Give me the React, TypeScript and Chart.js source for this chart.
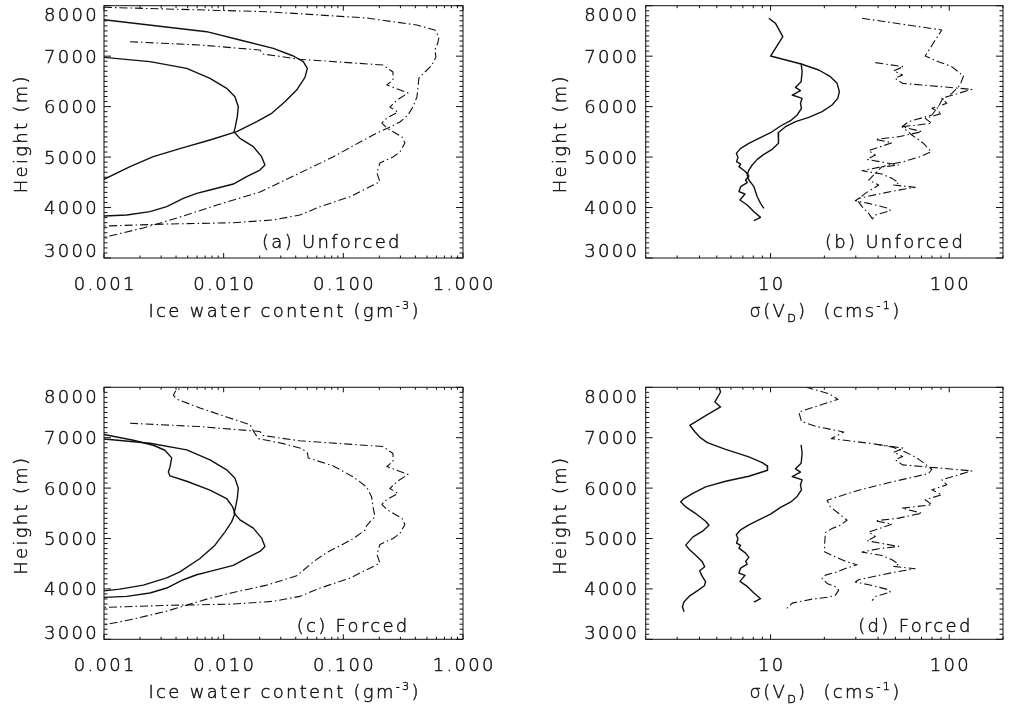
import React, { useEffect, useRef } from 'react';
import { Chart, registerables } from 'chart.js';

Chart.register(...registerables);

// Each profile point is [abscissa value, height in m]
type Pt = [number, number];

// ---- Axes ----
const heightRange = [3000, 8000];
const heightTicks = [3000, 4000, 5000, 6000, 7000, 8000];
const heightTickLabels = ['3000', '4000', '5000', '6000', '7000', '8000'];
const heightMinorStep = 100;

const iwcRange = [0.001, 1];
const iwcTicks = [0.001, 0.01, 0.1, 1];
const iwcTickLabels = ['0.001', '0.010', '0.100', '1.000'];

const sigmaRange = [2, 200];
const sigmaTicks = [10, 100];
const sigmaTickLabels = ['10', '100'];

// ---- Ice water content profiles (g m^-3) ----
const iwcObsSolid: Pt[] = [
  [0.001, 6975], [0.00242, 6891], [0.00491, 6759], [0.00769, 6560], [0.01059, 6362],
  [0.01243, 6197], [0.01325, 5999], [0.013, 5801], [0.01243, 5569], [0.01219, 5503],
  [0.01368, 5371], [0.0177, 5206], [0.02076, 5008], [0.02213, 4843], [0.0201, 4743],
  [0.01556, 4611], [0.01204, 4466], [0.00769, 4347], [0.00595, 4281], [0.0046, 4182],
  [0.00334, 4017], [0.00242, 3918], [0.00155, 3851], [0.001, 3832],
];
const iwcObsDashDot: Pt[] = [
  [0.00165, 7286], [0.00634, 7221], [0.0201, 7122], [0.0213, 7043], [0.0433, 6938],
  [0.214, 6825], [0.26, 6686], [0.26, 6527], [0.231, 6428], [0.347, 6270],
  [0.281, 6131], [0.245, 5992], [0.286, 5893], [0.231, 5774], [0.21, 5675],
  [0.231, 5576], [0.309, 5398], [0.327, 5279], [0.297, 5100], [0.26, 5001],
  [0.202, 4882], [0.191, 4684], [0.202, 4512], [0.157, 4381], [0.1135, 4214],
  [0.0638, 4016], [0.0434, 3852], [0.0258, 3753], [0.012, 3699], [0.00336, 3673],
  [0.001, 3634],
];
const iwcUnforcedSolid: Pt[] = [
  [0.001, 7722], [0.00721, 7485], [0.01368, 7320], [0.026, 7155], [0.0382, 7003],
  [0.0463, 6891], [0.05, 6759], [0.0478, 6580], [0.0407, 6329], [0.0325, 6098],
  [0.0252, 5867], [0.0189, 5701], [0.01284, 5503], [0.00768, 5338], [0.0046, 5186],
  [0.00258, 5008], [0.00165, 4809], [0.001, 4560],
];
const iwcUnforcedDashDot: Pt[] = [
  [0.001, 7968], [0.023, 7881], [0.157, 7756], [0.412, 7617], [0.582, 7518],
  [0.63, 7380], [0.616, 7261], [0.582, 7122], [0.594, 6983], [0.55, 6825],
  [0.481, 6686], [0.428, 6567], [0.42, 6369], [0.412, 6190], [0.381, 5992],
  [0.347, 5834], [0.297, 5695], [0.236, 5576], [0.191, 5477], [0.138, 5299],
  [0.0818, 5001], [0.0433, 4684], [0.0201, 4308], [0.00879, 4050], [0.00407, 3792],
  [0.00212, 3594], [0.001, 3410],
];
const iwcForcedSolid: Pt[] = [
  [0.001, 7065], [0.00176, 6949], [0.00258, 6850], [0.00323, 6751], [0.00368, 6599],
  [0.00356, 6420], [0.00345, 6321], [0.00356, 6242], [0.00491, 6136], [0.00769, 5958],
  [0.01059, 5793], [0.01189, 5627], [0.01243, 5495], [0.01165, 5330], [0.01026, 5132],
  [0.00846, 4868], [0.00634, 4603], [0.00431, 4339], [0.00334, 4220], [0.00213, 4075],
  [0.00136, 3995], [0.001, 3960],
];
const iwcForcedDashDot: Pt[] = [
  [0.00523, 8039], [0.0046, 8000], [0.004, 7946], [0.0038, 7841], [0.0041, 7761],
  [0.00634, 7590], [0.01059, 7411], [0.01658, 7259], [0.01791, 7114], [0.01948, 6982],
  [0.0315, 6883], [0.0448, 6784], [0.05, 6704], [0.0509, 6599], [0.0824, 6440],
  [0.1211, 6222], [0.1564, 6024], [0.1722, 5826], [0.1778, 5608], [0.1837, 5429],
  [0.169, 5343], [0.1564, 5251], [0.1515, 5165], [0.1211, 5000], [0.0937, 4854],
  [0.0725, 4722], [0.0561, 4537], [0.0448, 4339], [0.0407, 4260], [0.0229, 4075],
  [0.01204, 3929], [0.00721, 3797], [0.00491, 3678], [0.00334, 3559], [0.00176, 3401],
  [0.001, 3285],
];

// ---- Doppler velocity spread profiles (cm s^-1) ----
const sigmaObsSolid: Pt[] = [
  [14.83, 6858], [15.02, 6692], [14.83, 6494], [13.79, 6382], [14.7, 6316],
  [13.21, 6230], [15.02, 6164], [14.7, 6065], [14.89, 5966], [14.09, 5834],
  [12.93, 5721], [11.37, 5616], [10.0, 5483], [8.6, 5371], [7.56, 5272],
  [6.8, 5173], [6.43, 5074], [6.57, 4994], [6.45, 4909], [6.8, 4862],
  [6.65, 4810], [7.25, 4710], [7.56, 4625], [7.25, 4545], [7.4, 4492],
  [6.8, 4413], [6.65, 4314], [7.19, 4268], [6.74, 4149], [7.4, 4050],
  [8.07, 3918], [8.79, 3805], [8.07, 3739],
];
const sigmaObsDashDot: Pt[] = [
  [38.6, 6871], [55.5, 6792], [48.9, 6712], [54.8, 6626], [49.9, 6560],
  [54.8, 6461], [133.8, 6342], [112.7, 6263], [90.9, 6164], [97.0, 6065],
  [80.0, 5966], [90.9, 5867], [73.4, 5768], [80.0, 5669], [54.4, 5602],
  [70.3, 5503], [52.1, 5404], [38.6, 5351], [47.8, 5285], [40.3, 5193],
  [35.4, 5127], [38.6, 5041], [34.7, 4955], [43.9, 4889], [52.1, 4843],
  [40.3, 4796], [32.5, 4730], [42.0, 4664], [47.8, 4578], [52.1, 4492],
  [48.9, 4446], [64.5, 4400], [49.9, 4334], [40.3, 4268], [31.1, 4182],
  [29.8, 4136], [35.4, 4083], [45.8, 3984], [46.8, 3937], [38.6, 3851],
  [37.0, 3766],
];
const sigmaUnforcedSolid: Pt[] = [
  [9.78, 7750], [10.66, 7650], [11.71, 7386], [10.0, 7003], [14.83, 6844],
  [18.61, 6726], [21.63, 6593], [23.56, 6461], [24.28, 6296], [23.76, 6164],
  [22.1, 6032], [19.43, 5900], [16.37, 5787], [13.79, 5701], [12.12, 5602],
  [11.03, 5483], [11.13, 5371], [11.03, 5272], [10.21, 5153], [9.17, 5054],
  [8.42, 4955], [7.89, 4843], [7.56, 4743], [7.4, 4644], [7.56, 4545],
  [8.07, 4413], [8.42, 4215], [8.79, 4083], [9.17, 3984],
];
const sigmaUnforcedDashDot: Pt[] = [
  [32.5, 7750], [90.9, 7518], [81.7, 7267], [73.4, 7003], [87.1, 6891],
  [103.4, 6792], [120.2, 6607], [115.1, 6428], [103.4, 6263], [90.9, 6131],
  [87.1, 5999], [80.0, 5834], [59.2, 5701], [54.4, 5602], [61.8, 5437],
  [71.8, 5272], [79.3, 5107], [68.8, 5008], [55.5, 4909], [47.8, 4862],
  [42.0, 4810], [38.6, 4677], [35.4, 4545], [40.3, 4446], [33.9, 4281],
  [30.5, 4149], [32.5, 4017], [35.4, 3885], [37.0, 3785],
];
const sigmaForcedSolid: Pt[] = [
  [5.14, 8006], [5.25, 7907], [4.88, 7709], [5.25, 7610], [4.43, 7458],
  [3.84, 7325], [3.53, 7246], [3.78, 7114], [4.06, 6995], [4.43, 6903],
  [5.6, 6770], [7.56, 6618], [8.98, 6506], [9.57, 6440], [9.62, 6354],
  [7.56, 6235], [5.6, 6136], [4.33, 6024], [3.65, 5892], [3.28, 5793],
  [3.14, 5727], [3.35, 5627], [3.81, 5495], [4.33, 5343], [4.52, 5264],
  [4.19, 5152], [3.68, 5033], [3.35, 4868], [3.5, 4788], [3.81, 4669],
  [4.15, 4537], [4.28, 4438], [4.01, 4359], [4.11, 4273], [4.33, 4141],
  [4.26, 4062], [3.94, 3976], [3.53, 3863], [3.28, 3744], [3.21, 3645],
  [3.28, 3546],
];
const sigmaForcedDashDot: Pt[] = [
  [15.68, 8006], [21.17, 7874], [23.87, 7761], [14.39, 7510], [14.89, 7325],
  [17.83, 7226], [25.67, 7114], [21.91, 6982], [36.96, 6883], [47.81, 6817],
  [56.75, 6718], [65.94, 6599], [74.04, 6466], [79.97, 6374], [76.62, 6288],
  [47.81, 6123], [31.13, 5958], [20.72, 5760], [21.63, 5627], [24.07, 5495],
  [26.8, 5363], [24.59, 5264], [22.1, 5198], [20.28, 5119], [20.11, 4934],
  [20.02, 4735], [23.06, 4636], [26.8, 4537], [30.47, 4478], [26.23, 4405],
  [23.06, 4326], [20.28, 4273], [19.43, 4207], [20.72, 4108], [23.06, 4042],
  [24.07, 3976], [23.06, 3877], [21.17, 3837], [17.08, 3797], [13.21, 3718],
  [12.12, 3586],
];

// ---- Drawing style ----
const W = 1012;
const H = 710;
const INK = '#111';
const FONT_FAMILY = '"DejaVu Sans", sans-serif';
const FONT_WEIGHT = '200';
const FONT_SIZE = 18;
const LETTER_SPACING = 2.3;
const TEXT_STROKE = 0.45;
const CAP = 0.729;
const DASH_DOT = [8, 3, 1.5, 3];

type Seg = { t: string; mode?: 'sup' | 'sub' };
type Series = { data: Pt[]; style: 'solid' | 'dashdot' };
type PanelSpec = {
  key: string;
  frame: { l: number; t: number; r: number; b: number };
  axis: 'iwc' | 'sigma';
  label: string;
  labelX: number;
  labelBase: number;
  yLabelRight: number;
  yTitleBase: number;
  series: Series[];
};

const iwcTitle: Seg[] = [{ t: 'Ice water content (gm' }, { t: '-3', mode: 'sup' }, { t: ')' }];
const sigmaTitle: Seg[] = [
  { t: '\u03c3(V' }, { t: 'D', mode: 'sub' }, { t: ')  (cms' }, { t: '-1', mode: 'sup' }, { t: ')' },
];
const heightTitle: Seg[] = [{ t: 'Height (m)' }];

const panels: PanelSpec[] = [
  {
    key: 'a', frame: { l: 104, t: 5.7, r: 463, b: 258 }, axis: 'iwc',
    label: '(a) Unforced', labelX: 262, labelBase: 248.3, yLabelRight: 96.7, yTitleBase: 26.7,
    series: [
      { data: iwcObsSolid, style: 'solid' },
      { data: iwcUnforcedSolid, style: 'solid' },
      { data: iwcObsDashDot, style: 'dashdot' },
      { data: iwcUnforcedDashDot, style: 'dashdot' },
    ],
  },
  {
    key: 'b', frame: { l: 645.7, t: 5.7, r: 1003, b: 258 }, axis: 'sigma',
    label: '(b) Unforced', labelX: 825, labelBase: 248.3, yLabelRight: 637, yTitleBase: 566,
    series: [
      { data: sigmaObsSolid, style: 'solid' },
      { data: sigmaUnforcedSolid, style: 'solid' },
      { data: sigmaObsDashDot, style: 'dashdot' },
      { data: sigmaUnforcedDashDot, style: 'dashdot' },
    ],
  },
  {
    key: 'c', frame: { l: 104, t: 387.3, r: 463, b: 639.3 }, axis: 'iwc',
    label: '(c) Forced', labelX: 296.7, labelBase: 631.7, yLabelRight: 96.7, yTitleBase: 26.7,
    series: [
      { data: iwcObsSolid, style: 'solid' },
      { data: iwcForcedSolid, style: 'solid' },
      { data: iwcObsDashDot, style: 'dashdot' },
      { data: iwcForcedDashDot, style: 'dashdot' },
    ],
  },
  {
    key: 'd', frame: { l: 645.7, t: 387.3, r: 1003, b: 639.3 }, axis: 'sigma',
    label: '(d) Forced', labelX: 858.3, labelBase: 631.7, yLabelRight: 637, yTitleBase: 566,
    series: [
      { data: sigmaObsSolid, style: 'solid' },
      { data: sigmaForcedSolid, style: 'solid' },
      { data: sigmaObsDashDot, style: 'dashdot' },
      { data: sigmaForcedDashDot, style: 'dashdot' },
    ],
  },
];

function setFont(ctx: CanvasRenderingContext2D, size: number) {
  ctx.font = `${FONT_WEIGHT} ${size}px ${FONT_FAMILY}`;
  (ctx as any).letterSpacing = `${LETTER_SPACING}px`;
}

function segSize(s: Seg) {
  return s.mode ? FONT_SIZE * 0.62 : FONT_SIZE;
}

function richWidth(ctx: CanvasRenderingContext2D, segs: Seg[]) {
  let w = 0;
  for (const s of segs) {
    setFont(ctx, segSize(s));
    w += ctx.measureText(s.t).width;
  }
  return w - LETTER_SPACING;
}

// Draws mixed text (with super/subscripts) starting at x on the given baseline.
// A thin outline thickens the light face to a pen-plotter stroke weight.
function drawRich(ctx: CanvasRenderingContext2D, segs: Seg[], x: number, base: number) {
  ctx.textAlign = 'left';
  ctx.textBaseline = 'alphabetic';
  ctx.lineWidth = TEXT_STROKE;
  ctx.lineJoin = 'round';
  let cx = x;
  for (const s of segs) {
    setFont(ctx, segSize(s));
    const dy = s.mode === 'sup' ? -FONT_SIZE * 0.45 : s.mode === 'sub' ? FONT_SIZE * 0.28 : 0;
    ctx.fillText(s.t, cx, base + dy);
    ctx.strokeText(s.t, cx, base + dy);
    cx += ctx.measureText(s.t).width;
  }
}

function makeFramePlugin(p: PanelSpec) {
  const ticks = p.axis === 'iwc' ? iwcTicks : sigmaTicks;
  const tickLabels = p.axis === 'iwc' ? iwcTickLabels : sigmaTickLabels;
  const xTitle = p.axis === 'iwc' ? iwcTitle : sigmaTitle;
  return {
    id: 'idlFrame' + p.key,
    afterDatasetsDraw(chart: any) {
      const ctx: CanvasRenderingContext2D = chart.ctx;
      const xs = chart.scales.x;
      const ys = chart.scales.y;
      const { left, right, top, bottom } = chart.chartArea;
      ctx.save();
      ctx.strokeStyle = INK;
      ctx.fillStyle = INK;
      ctx.lineWidth = 1;
      ctx.setLineDash([]);
      ctx.strokeRect(left, top, right - left, bottom - top);

      // inward ticks on all four sides
      ctx.beginPath();
      for (let h = heightRange[0]; h <= heightRange[1]; h += heightMinorStep) {
        const py = ys.getPixelForValue(h);
        const len = h % 1000 === 0 ? 7 : 3.5;
        ctx.moveTo(left, py); ctx.lineTo(left + len, py);
        ctx.moveTo(right, py); ctx.lineTo(right - len, py);
      }
      const mn = xs.min;
      const mx = xs.max;
      for (let e = Math.floor(Math.log10(mn)); e <= Math.ceil(Math.log10(mx)); e++) {
        for (let m = 1; m <= 9; m++) {
          const v = m * Math.pow(10, e);
          if (v < mn * 0.999 || v > mx * 1.001) continue;
          const px = xs.getPixelForValue(v);
          const len = m === 1 ? 5 : 2.5;
          ctx.moveTo(px, bottom); ctx.lineTo(px, bottom - len);
          ctx.moveTo(px, top); ctx.lineTo(px, top + len);
        }
      }
      ctx.stroke();

      // height tick labels, kept inside the frame's vertical extent
      const capH = CAP * FONT_SIZE;
      heightTicks.forEach((h, i) => {
        const py = ys.getPixelForValue(h);
        const cy = Math.min(Math.max(py, top + 8.8), bottom - 7.2);
        const segs = [{ t: heightTickLabels[i] }];
        const w = richWidth(ctx, segs);
        drawRich(ctx, segs, p.yLabelRight - w, cy + capH / 2);
      });

      // abscissa tick labels
      ticks.forEach((v, i) => {
        const px = xs.getPixelForValue(v);
        const segs = [{ t: tickLabels[i] }];
        const w = richWidth(ctx, segs);
        drawRich(ctx, segs, px - w / 2, bottom + 32);
      });

      // abscissa title
      const cx = (left + right) / 2;
      const tw = richWidth(ctx, xTitle);
      drawRich(ctx, xTitle, cx - tw / 2, bottom + 59);

      // height title, rotated
      const hw = richWidth(ctx, heightTitle);
      ctx.save();
      ctx.translate(p.yTitleBase, (top + bottom) / 2 + 3);
      ctx.rotate(-Math.PI / 2);
      drawRich(ctx, heightTitle, -hw / 2, 0);
      ctx.restore();

      // panel label
      drawRich(ctx, [{ t: p.label }], p.labelX, p.labelBase);
      ctx.restore();
    },
  };
}

function buildConfig(p: PanelSpec): any {
  const range = p.axis === 'iwc' ? iwcRange : sigmaRange;
  return {
    type: 'scatter',
    data: {
      datasets: p.series.map((s) => ({
        data: s.data.map(([v, h]) => ({ x: v, y: h })),
        showLine: true,
        borderColor: INK,
        borderWidth: s.style === 'solid' ? 1.4 : 1.1,
        borderDash: s.style === 'solid' ? [] : DASH_DOT,
        borderCapStyle: 'butt',
        borderJoinStyle: 'round',
        pointRadius: 0,
        pointHoverRadius: 0,
        fill: false,
        tension: 0,
      })),
    },
    options: {
      responsive: false,
      animation: false,
      events: [],
      layout: {
        padding: { left: p.frame.l, top: p.frame.t, right: W - p.frame.r, bottom: H - p.frame.b },
      },
      scales: {
        x: { type: 'logarithmic', min: range[0], max: range[1], display: false },
        y: { type: 'linear', min: heightRange[0], max: heightRange[1], display: false },
      },
      plugins: { legend: { display: false }, tooltip: { enabled: false }, title: { display: false } },
    },
    plugins: [makeFramePlugin(p)],
  };
}

function Panel({ spec }: { spec: PanelSpec }) {
  const ref = useRef<HTMLCanvasElement>(null);
  useEffect(() => {
    if (!ref.current) return;
    const chart = new Chart(ref.current, buildConfig(spec));
    return () => chart.destroy();
  }, [spec]);
  return (
    <canvas
      ref={ref}
      width={W}
      height={H}
      style={{ position: 'absolute', left: 0, top: 0, width: W, height: H }}
    />
  );
}

export default function App() {
  return (
    <div
      style={{
        position: 'fixed', left: 0, top: 0, width: W, height: H,
        background: '#fff', overflow: 'hidden',
      }}
    >
      {panels.map((p) => (
        <Panel key={p.key} spec={p} />
      ))}
    </div>
  );
}
